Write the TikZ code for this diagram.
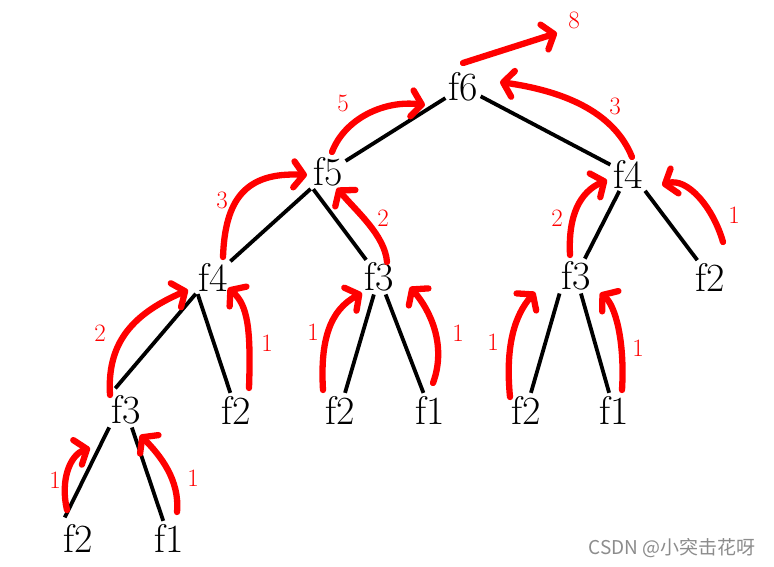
\documentclass[tikz,border=0pt]{standalone}
\usepackage{fontspec}
\newfontfamily\cjkfont{Noto Sans CJK SC}
\usetikzlibrary{arrows.meta,calc}

\begin{document}
\begin{tikzpicture}[x=1pt,y=-1pt,>={Straight Barb[length=10pt,width=26pt,round]},
  term/.style={font=\fontsize{40}{40}\selectfont,inner sep=1pt},
  link/.style={line width=3.8pt,shorten <=2pt,shorten >=2pt},
  flow/.style={->,red,line width=6.3pt,line cap=round,line join=round},
  num/.style={red,font=\fontsize{25}{25}\selectfont}]
\useasboundingbox (0,0) rectangle (774,566);
% tree
\node[term] (f6) at (463,87) {f6};
\node[term] (f5) at (328,172) {f5};
\node[term] (f4r) at (628,174) {f4};
\node[term] (f4l) at (213,277) {f4};
\node[term] (f3m) at (379,277) {f3};
\node[term] (f3r) at (576,276) {f3};
\node[term] (f2r) at (710,277) {f2};
\node[term] (f3l) at (126,410) {f3};
\node[term] (f2b) at (236,410) {f2};
\node[term] (f2c) at (340,410) {f2};
\node[term] (f1a) at (430,410) {f1};
\node[term] (f2d) at (526,410) {f2};
\node[term] (f1b) at (614,410) {f1};
\node[term] (f2e) at (78,538) {f2};
\node[term] (f1c) at (169,538) {f1};
\draw[link] (f6)--(f5);
\draw[link] (f6)--(f4r);
\draw[link] (f5.south west)--(f4l);
\draw[link] (f5.south west)--(f3m);
\draw[link,shorten >=8pt] (f4l.south west)--(f3l.north west);
\draw[link] (f4l.south west)--(f2b);
\draw[link] (f3m)--(f2c);
\draw[link] (f3m)--(f1a);
\draw[link] (f4r)--(f3r);
\draw[link] (f4r.south east)--(f2r);
\draw[link] (f3r.south west)--(f2d);
\draw[link] (f3r)--(f1b);
\draw[link,shorten >=6pt] (f3l.south west)--(f2e.north west);
\draw[link] (f3l)--(f1c);
% return paths
\coordinate (top) at ($(f6)+(94,-54)$);
\draw[flow] ($(f6)+(0,-24)$)--(top);
\draw[flow] ($(f5)+(4,-20)$) .. controls +(13,-34) and +(-40,-5) .. ($(f6)+(-38,18)$);
\draw[flow] ($(f4r)+(4,-17)$) .. controls +(-17,-42) and +(70,10) .. ($(f6)+(37,-5)$);
\draw[flow] ($(f4l)+(10,-20)$) .. controls +(2,-57) and +(-62,-3) .. ($(f5)+(-21,3)$);
\draw[flow] ($(f3m)+(8,-15)$) .. controls +(-2,-27) and +(18,22) .. ($(f5)+(9,16)$);
\draw[flow] ($(f3l)+(-16,-15)$) .. controls +(-3,-50) and +(-58,25) .. ($(f4l)+(-25,13)$);
\draw[flow] ($(f2b)+(13,-22)$) .. controls +(2,-58) and +(20,17) .. ($(f4l)+(15,11)$);
\draw[flow] ($(f2c)+(-17,-20)$) .. controls +(-3,-50) and +(-32,17) .. ($(f3m)+(-17,16)$);
\draw[flow] ($(f1a)+(3,-27)$) .. controls +(14,-38) and +(20,23) .. ($(f3m)+(31,10)$);
\draw[flow] ($(f3r)+(-6,-21)$) .. controls +(-2,-40) and +(-27,12) .. ($(f4r)+(-21,6)$);
\draw[flow] ($(f2r)+(13,-35)$) .. controls +(-10,-35) and +(25,-8) .. ($(f4r)+(34,11)$);
\draw[flow] ($(f2d)+(-16,-13)$) .. controls +(-5,-52) and +(-20,23) .. ($(f3r)+(-41,16)$);
\draw[flow] ($(f1b)+(8,-20)$) .. controls +(3,-50) and +(15,12) .. ($(f3r)+(24,17)$);
\draw[flow] ($(f2e)+(-11,-28)$) .. controls +(-7,-30) and +(-20,7) .. ($(f3l)+(-36,38)$);
\draw[flow] ($(f1c)+(8,-26)$) .. controls +(3,-32) and +(20,20) .. ($(f3l)+(14,25)$);
% step counts
\foreach \t/\x/\y [count=\i] in {8/574/20,5/343/103,3/615/106,3/222/200,
  2/383/218,2/100/333,1/267/343,1/313/332,1/458/333,2/557/218,
  1/734/215,1/493/342,1/638/348,1/55/480,1/193/478}
  \node[num] (n\i) at (\x,\y) {\t};
\node[text=black!45,font=\cjkfont\fontsize{19}{19}\selectfont] (mark)
  at (672,548) {CSDN @小突击花呀};
\end{tikzpicture}
\end{document}
